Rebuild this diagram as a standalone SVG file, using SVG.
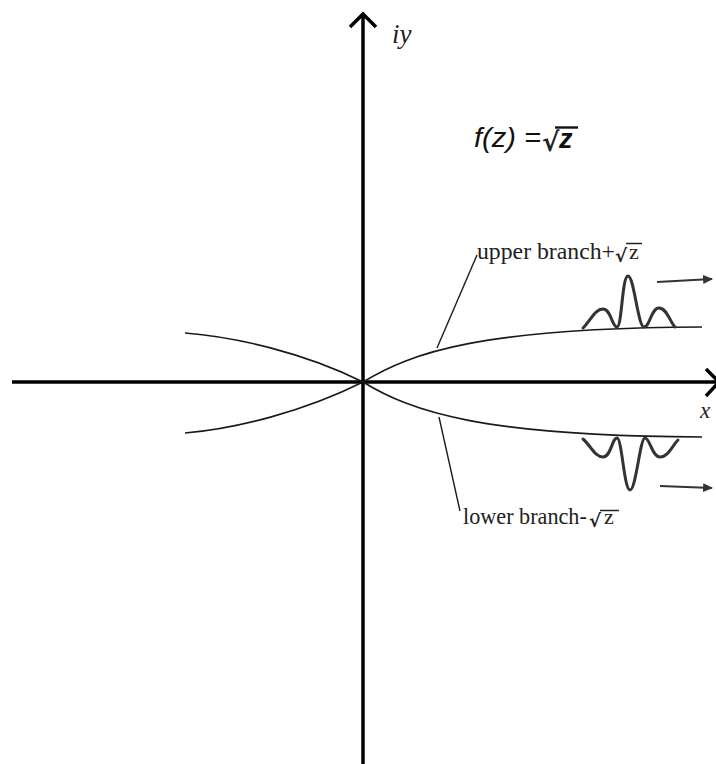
<svg xmlns="http://www.w3.org/2000/svg" width="716" height="764" viewBox="0 0 716 764">
<style>
.axis{stroke:#000;stroke-width:3.5;fill:none}
.curve{stroke:#1a1a1a;stroke-width:1.6;fill:none}
.lead{stroke:#1a1a1a;stroke-width:1.4;fill:none}
.wave{stroke:#333;stroke-width:3;fill:none;stroke-linejoin:round;stroke-linecap:round}
.arr{stroke:#333;stroke-width:1.8;fill:none}
.lbl{font-family:"Liberation Serif","Times New Roman",serif;font-size:24px;fill:#222}
.ital{font-family:"Liberation Serif","Times New Roman",serif;font-style:italic;fill:#222}
.fz{font-family:"Liberation Sans",Arial,sans-serif;font-style:italic;font-size:27px;fill:#111}
.rad{font-family:"DejaVu Sans",sans-serif;font-weight:bold;fill:#222}
.z{font-family:"Liberation Serif",serif;font-size:22px;fill:#222}
</style>
<defs>
<marker id="ah" viewBox="0 0 10 10" refX="9" refY="5" markerWidth="5.5" markerHeight="5.5" orient="auto" markerUnits="strokeWidth">
<path d="M0,0.5 L10,5 L0,9.5 Z" fill="#333"/>
</marker>
</defs>
<g id="axes">
<line class="axis" x1="363" y1="14" x2="363" y2="764"/>
<polyline class="axis" points="350,27 363,14 376,27"/>
<line class="axis" x1="12" y1="382" x2="716" y2="382"/>
<polyline class="axis" points="706,369 719,382 706,396"/>
<text class="ital" x="392" y="43" font-size="27" fill="#333">iy</text>
<text class="ital" x="700" y="418" font-size="23" fill="#333">x</text>
</g>
<g id="title">
<text class="fz" x="474" y="147" textLength="67" lengthAdjust="spacingAndGlyphs">f(z) =</text>
<text class="rad" x="542" y="151" font-size="26">√</text>
<line x1="555" y1="127.5" x2="578" y2="127.5" stroke="#111" stroke-width="2.4"/>
<text class="fz" x="559" y="148" font-weight="bold">z</text>
</g>
<g id="connectors">
<path class="curve" d="M185,333 C236,337 305,353 363,382"/>
<path class="curve" d="M185,433 C236,429 305,411 363,382"/>
<path class="curve" d="M363,382 C412,352 482,328 702,327"/>
<path class="curve" d="M363,382 C412,412 482,436 702,437"/>
<line class="lead" x1="437" y1="348" x2="477" y2="255"/>
<line class="lead" x1="439" y1="417" x2="460" y2="511"/>
</g>
<g id="upper-packet">
<path class="wave" d="M583,328 C591,320 595,309 603,309 C611,309 612,327 617,327 C622,327 622,276 628,276 C634,276 638,327 644,327 C650,327 651,308 659,308 C667,308 670,322 675,327"/>
<line class="arr" x1="657" y1="282" x2="712" y2="279" marker-end="url(#ah)"/>
</g>
<g id="lower-packet">
<path class="wave" d="M583,439 C591,446 595,457 603,457 C611,457 612,438 617,438 C622,438 624,490 630,490 C636,490 640,438 645,438 C650,438 652,457 660,457 C668,457 672,446 678,440"/>
<line class="arr" x1="660" y1="486" x2="712" y2="488" marker-end="url(#ah)"/>
</g>
<g id="upper-label">
<text class="lbl" x="477" y="259" textLength="138" lengthAdjust="spacingAndGlyphs">upper branch+</text>
<text class="rad" x="615" y="262" font-size="18">√</text>
<line x1="626" y1="243.5" x2="642" y2="243.5" stroke="#222" stroke-width="1.5"/>
<text class="z" x="629" y="259">z</text>
</g>
<g id="lower-label">
<text class="lbl" x="463" y="524" style="font-size:22.2px">lower branch-</text>
<text class="rad" x="589" y="527" font-size="18">√</text>
<line x1="600" y1="510.5" x2="619" y2="510.5" stroke="#222" stroke-width="1.5"/>
<text class="z" x="604" y="524">z</text>
</g>
</svg>
